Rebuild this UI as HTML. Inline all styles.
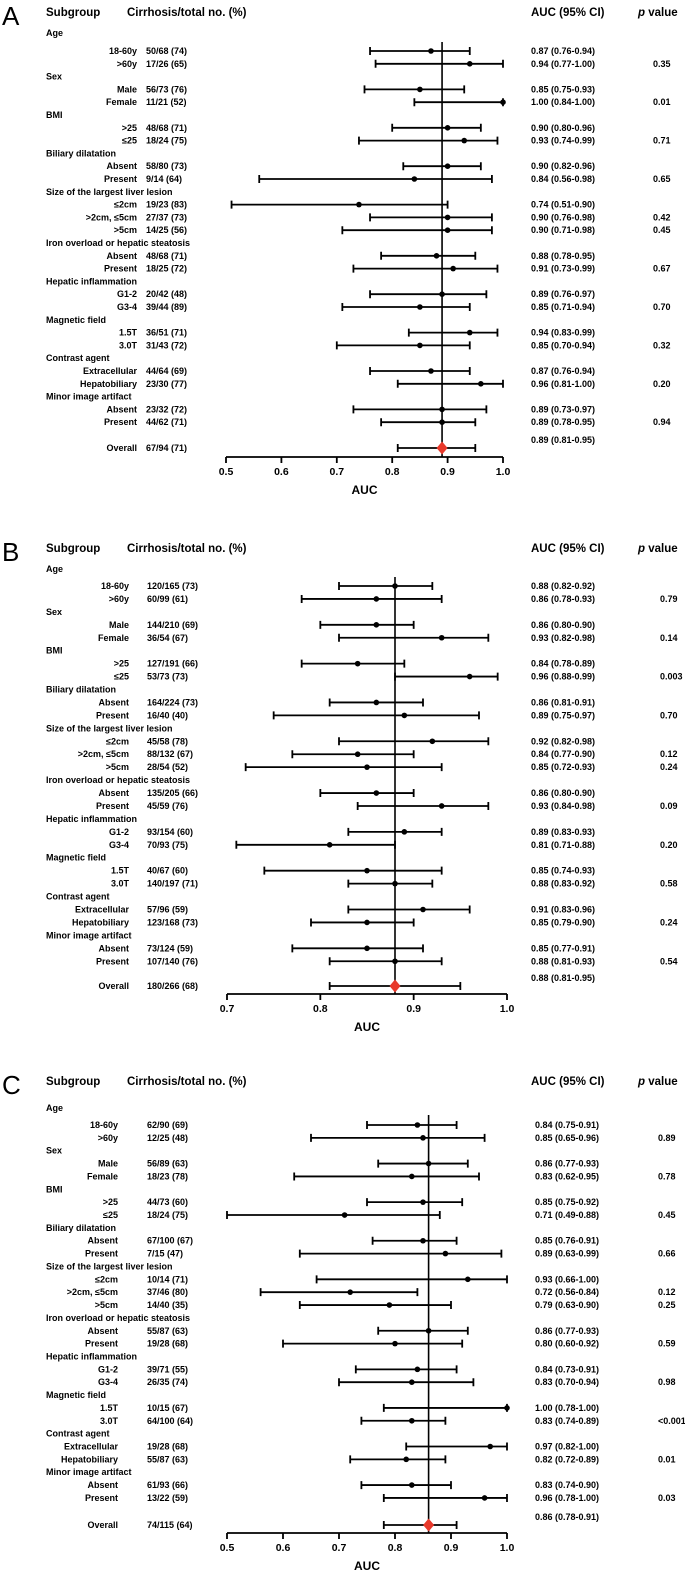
<!DOCTYPE html>
<html><head><meta charset="utf-8">
<style>
html,body{margin:0;padding:0;background:#fff;}
svg{display:block;font-family:"Liberation Sans",Arial,sans-serif;}
</style></head>
<body>
<svg id="chart" width="685" height="1574" viewBox="0 0 685 1574" xmlns="http://www.w3.org/2000/svg"></svg>
<script>
const categories = ["Age","Sex","BMI","Biliary dilatation","Size of the largest liver lesion","Iron overload or hepatic steatosis","Hepatic inflammation","Magnetic field","Contrast agent","Minor image artifact"];
const itemLabels = [["18-60y",">60y"],["Male","Female"],[">25","≤25"],["Absent","Present"],["≤2cm",">2cm, ≤5cm",">5cm"],["Absent","Present"],["G1-2","G3-4"],["1.5T","3.0T"],["Extracellular","Hepatobiliary"],["Absent","Present"]];

const countsA = ["50/68 (74)","17/26 (65)","56/73 (76)","11/21 (52)","48/68 (71)","18/24 (75)","58/80 (73)","9/14 (64)","19/23 (83)","27/37 (73)","14/25 (56)","48/68 (71)","18/25 (72)","20/42 (48)","39/44 (89)","36/51 (71)","31/43 (72)","44/64 (69)","23/30 (77)","23/32 (72)","44/62 (71)","67/94 (71)"];
const aucA = [0.87,0.94,0.85,1.00,0.90,0.93,0.90,0.84,0.74,0.90,0.90,0.88,0.91,0.89,0.85,0.94,0.85,0.87,0.96,0.89,0.89,0.89];
const loA = [0.76,0.77,0.75,0.84,0.80,0.74,0.82,0.56,0.51,0.76,0.71,0.78,0.73,0.76,0.71,0.83,0.70,0.76,0.81,0.73,0.78,0.81];
const hiA = [0.94,1.00,0.93,1.00,0.96,0.99,0.96,0.98,0.90,0.98,0.98,0.95,0.99,0.97,0.94,0.99,0.94,0.94,1.00,0.97,0.95,0.95];
const pA = ["","0.35","","0.01","","0.71","","0.65","","0.42","0.45","","0.67","","0.70","","0.32","","0.20","","0.94"];
const ticksA = ["0.5","0.6","0.7","0.8","0.9","1.0"];

const countsB = ["120/165 (73)","60/99 (61)","144/210 (69)","36/54 (67)","127/191 (66)","53/73 (73)","164/224 (73)","16/40 (40)","45/58 (78)","88/132 (67)","28/54 (52)","135/205 (66)","45/59 (76)","93/154 (60)","70/93 (75)","40/67 (60)","140/197 (71)","57/96 (59)","123/168 (73)","73/124 (59)","107/140 (76)","180/266 (68)"];
const aucB = [0.88,0.86,0.86,0.93,0.84,0.96,0.86,0.89,0.92,0.84,0.85,0.86,0.93,0.89,0.81,0.85,0.88,0.91,0.85,0.85,0.88,0.88];
const loB = [0.82,0.78,0.80,0.82,0.78,0.88,0.81,0.75,0.82,0.77,0.72,0.80,0.84,0.83,0.71,0.74,0.83,0.83,0.79,0.77,0.81,0.81];
const hiB = [0.92,0.93,0.90,0.98,0.89,0.99,0.91,0.97,0.98,0.90,0.93,0.90,0.98,0.93,0.88,0.93,0.92,0.96,0.90,0.91,0.93,0.95];
const pB = ["","0.79","","0.14","","0.003","","0.70","","0.12","0.24","","0.09","","0.20","","0.58","","0.24","","0.54"];
const ticksB = ["0.7","0.8","0.9","1.0"];

const countsC = ["62/90 (69)","12/25 (48)","56/89 (63)","18/23 (78)","44/73 (60)","18/24 (75)","67/100 (67)","7/15 (47)","10/14 (71)","37/46 (80)","14/40 (35)","55/87 (63)","19/28 (68)","39/71 (55)","26/35 (74)","10/15 (67)","64/100 (64)","19/28 (68)","55/87 (63)","61/93 (66)","13/22 (59)","74/115 (64)"];
const aucC = [0.84,0.85,0.86,0.83,0.85,0.71,0.85,0.89,0.93,0.72,0.79,0.86,0.80,0.84,0.83,1.00,0.83,0.97,0.82,0.83,0.96,0.86];
const loC = [0.75,0.65,0.77,0.62,0.75,0.49,0.76,0.63,0.66,0.56,0.63,0.77,0.60,0.73,0.70,0.78,0.74,0.82,0.72,0.74,0.78,0.78];
const hiC = [0.91,0.96,0.93,0.95,0.92,0.88,0.91,0.99,1.00,0.84,0.90,0.93,0.92,0.91,0.94,1.00,0.89,1.00,0.89,0.90,1.00,0.91];
const pC = ["","0.89","","0.78","","0.45","","0.66","","0.12","0.25","","0.59","","0.98","","<0.001","","0.01","","0.03"];
const ticksC = ["0.5","0.6","0.7","0.8","0.9","1.0"];

const NS="http://www.w3.org/2000/svg";
const svg=document.getElementById('chart');
function mk(tag,attrs,parent,text){const e=document.createElementNS(NS,tag);for(const k in attrs)e.setAttribute(k,attrs[k]);if(text!==undefined)e.textContent=text;(parent||svg).appendChild(e);return e;}
function fmt(v){return v.toFixed(2);}

const panels=[
 {letter:"A",counts:countsA,auc:aucA,lo:loA,hi:hiA,p:pA,ticks:ticksA,dmin:0.5,dmax:1.0,x0:226,x1:503,head:12,age:33,first:51,pitch:12.8,overall:448,axis:457,refTop:42,labR:137,cntX:146,aucX:531,pX:653},
 {letter:"B",counts:countsB,auc:aucB,lo:loB,hi:hiB,p:pB,ticks:ticksB,dmin:0.7,dmax:1.0,x0:227,x1:507,head:548,age:569,first:586,pitch:12.94,overall:986,axis:994,refTop:577,labR:129,cntX:147,aucX:531,pX:660},
 {letter:"C",counts:countsC,auc:aucC,lo:loC,hi:hiC,p:pC,ticks:ticksC,dmin:0.5,dmax:1.0,x0:227,x1:507,head:1081,age:1108,first:1125,pitch:12.86,overall:1525,axis:1533,refTop:1115,labR:118,cntX:147,aucX:535,pX:658}
];

panels.forEach((P,pi)=>{
  const g=mk('g',{});
  
  
  const sx=v=>P.x0+(Math.max(P.dmin,Math.min(P.dmax,v))-P.dmin)/(P.dmax-P.dmin)*(P.x1-P.x0);
  const st='font-size:9px;font-weight:bold;';
  let t=mk('text',{x:2,y:P.head+13,'font-size':'26','font-weight':'normal'},g,P.letter);
  
  t=mk('text',{x:46,y:P.head+4,style:'font-size:11.5px;font-weight:bold'},g,'Subgroup');
  
  t=mk('text',{x:127,y:P.head+4,style:'font-size:11.5px;font-weight:bold'},g,'Cirrhosis/total no.  (%)');
  
  t=mk('text',{x:531,y:P.head+4,style:'font-size:11.5px;font-weight:bold'},g,'AUC (95% CI)');
  
  t=mk('text',{x:638,y:P.head+4,style:'font-size:11.5px;font-weight:bold'},g);
  
  mk('tspan',{'font-style':'italic'},t,'p');mk('tspan',{},t,' value');
  const refVal=P.auc[P.auc.length-1];
  const rl=mk('line',{x1:sx(refVal),x2:sx(refVal),y1:P.refTop,y2:P.axis,stroke:'#000','stroke-width':1.6},g);
  
  let line=0, item=0;
  categories.forEach((cat,ci)=>{
    const cy = line===0 ? P.age : P.first+(line-1)*P.pitch;
    const ct=mk('text',{x:46,y:cy+3,style:st},g,cat);
    
    line++;
    itemLabels[ci].forEach(lab=>{
      const y=P.first+(line-1)*P.pitch;
      const lt=mk('text',{x:P.labR,y:y+3,'text-anchor':'end',style:st},g,lab);
      
      const nt=mk('text',{x:P.cntX,y:y+3,style:st},g,P.counts[item]);
      
      const at=mk('text',{x:P.aucX,y:y+3,style:st},g,fmt(P.auc[item])+' ('+fmt(P.lo[item])+'-'+fmt(P.hi[item])+')');
      
      if(P.p[item]){const pt=mk('text',{x:P.pX,y:y+3,style:st},g,P.p[item]);
        }
      const a=sx(P.lo[item]),b=sx(P.hi[item]);
      const eb=mk('path',{d:`M${a},${y}H${b}M${a},${y-4}V${y+4}M${b},${y-4}V${y+4}`,stroke:'#000','stroke-width':1.8,fill:'none'},g);
      
      const dt=mk('circle',{cx:sx(P.auc[item]),cy:y,r:2.8,fill:'#000'},g);
      
      line++;item++;
    });
  });
  const oy=P.overall, oi=P.auc.length-1;
  let ot=mk('text',{x:P.labR,y:oy+3,'text-anchor':'end',style:st},g,'Overall');
  
  ot=mk('text',{x:P.cntX,y:oy+3,style:st},g,P.counts[oi]);
  
  ot=mk('text',{x:P.aucX,y:oy-5,style:st},g,fmt(P.auc[oi])+' ('+fmt(P.lo[oi])+'-'+fmt(P.hi[oi])+')');
  
  const oa=sx(P.lo[oi]),ob=sx(P.hi[oi]);
  const oeb=mk('path',{d:`M${oa},${oy}H${ob}M${oa},${oy-4}V${oy+4}M${ob},${oy-4}V${oy+4}`,stroke:'#000','stroke-width':1.8,fill:'none'},g);
  
  const ox=sx(P.auc[oi]);
  const dm=mk('path',{d:`M${ox-5.5},${oy}L${ox},${oy-6.5}L${ox+5.5},${oy}L${ox},${oy+6.5}Z`,fill:'#e8392b'},g);
  
  const ax=mk('line',{x1:P.x0,x2:P.x1,y1:P.axis,y2:P.axis,stroke:'#000','stroke-width':1.8},g);
  
  P.ticks.forEach(tl=>{
    const tx=sx(parseFloat(tl));
    const tk=mk('line',{x1:tx,x2:tx,y1:P.axis,y2:P.axis+6,stroke:'#000','stroke-width':1.8},g);
    
    const tt=mk('text',{x:tx,y:P.axis+18,'text-anchor':'middle',style:'font-size:10.5px;font-weight:bold'},g,tl);
    
  });
  const xt=mk('text',{x:(P.x0+P.x1)/2,y:P.axis+37,'text-anchor':'middle',style:'font-size:12px;font-weight:bold'},g,'AUC');
  
});
</script>
</body></html>
